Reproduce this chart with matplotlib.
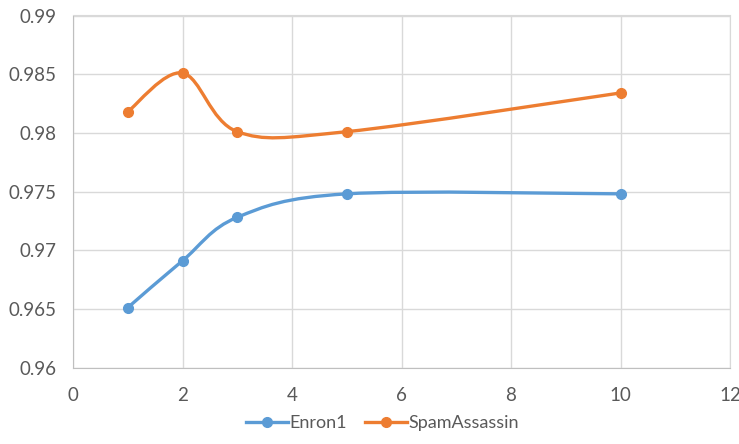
import numpy as np
import matplotlib.pyplot as plt
from matplotlib.path import Path
from matplotlib.patches import PathPatch
from matplotlib.lines import Line2D

# datos
x_vals = [1, 2, 3, 5, 10]
enron1 = [0.9651, 0.9691, 0.9728, 0.9748, 0.9748]
spam_assassin = [0.9818, 0.9851, 0.9801, 0.9801, 0.9834]
series_names = ['Enron1', 'SpamAssassin']
colores = ['#5B9BD5', '#ED7D31']

plt.rcParams['font.family'] = ['Lato', 'DejaVu Sans']


def curva_suave(xs, ys):
    '''Bezier tipo Excel (linea suavizada) entre los puntos.'''
    pts = list(zip(xs, ys))
    n = len(pts)
    verts = [pts[0]]
    codes = [Path.MOVETO]
    for i in range(n - 1):
        p0 = pts[i - 1] if i > 0 else pts[i]
        p1 = pts[i]
        p2 = pts[i + 1]
        p3 = pts[i + 2] if i + 2 < n else pts[i + 1]
        c1 = (p1[0] + (p2[0] - p0[0]) / 6, p1[1] + (p2[1] - p0[1]) / 6)
        c2 = (p2[0] - (p3[0] - p1[0]) / 6, p2[1] - (p3[1] - p1[1]) / 6)
        verts += [c1, c2, p2]
        codes += [Path.CURVE4] * 3
    return Path(verts, codes)


fig = plt.figure(figsize=(7.39, 4.44), dpi=100)
ax = fig.add_axes([73 / 739, 1 - 367.5 / 444, 657 / 739, 352 / 444])

for ys, nombre, c in zip([enron1, spam_assassin], series_names, colores):
    ax.add_patch(PathPatch(curva_suave(x_vals, ys), facecolor='none',
                           edgecolor=c, lw=2.4, capstyle='round', zorder=3))
    ax.plot(x_vals, ys, 'o', color=c, markersize=7, zorder=4)

ax.set_xlim(0, 12)
ax.set_ylim(0.96, 0.99)
ax.set_xticks(range(0, 13, 2))
ax.set_yticks([0.96, 0.965, 0.97, 0.975, 0.98, 0.985, 0.99])
ax.set_yticklabels(['0.96', '0.965', '0.97', '0.975', '0.98', '0.985', '0.99'])
ax.grid(True, color='#d9d9d9', lw=1)
ax.set_axisbelow(True)
for s in ax.spines.values():
    s.set_color('#d9d9d9')
ax.spines['left'].set_color('#bfbfbf')
ax.spines['bottom'].set_color('#bfbfbf')
ax.tick_params(length=0, labelsize=13.5, colors='#595959')
ax.tick_params(axis='x', pad=14)
ax.tick_params(axis='y', pad=12)

handles = [Line2D([], [], color=c, lw=2.4, marker='o', markersize=7) for c in colores]
fig.legend(handles, series_names, loc='center', bbox_to_anchor=(0.518, 0.047),
           ncol=2, frameon=False, fontsize=13, labelcolor='#595959',
           handlelength=2.3, handletextpad=0.1, columnspacing=1.0)

plt.savefig('out.png', dpi=100)
